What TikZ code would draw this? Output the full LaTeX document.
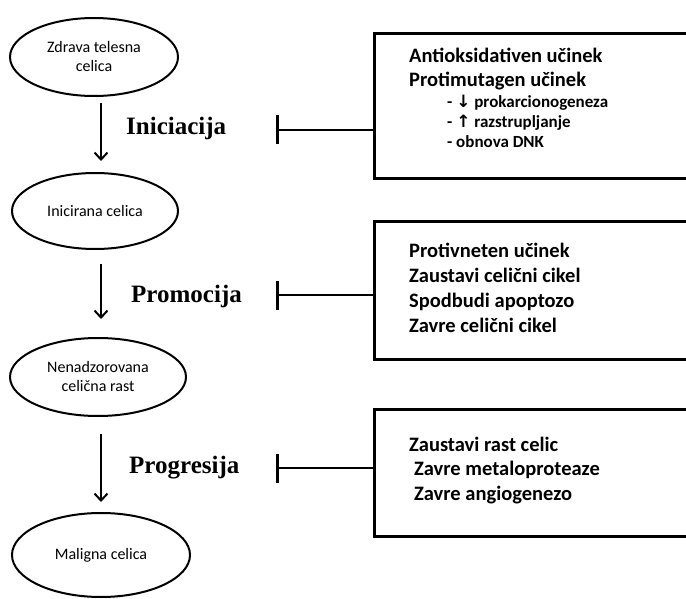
\documentclass[tikz,border=0pt]{standalone}
\usepackage{fontspec}
\setmainfont{Carlito}
\newfontfamily\phasefont{Liberation Serif}
\newfontfamily\symfont{DejaVu Sans}
\usetikzlibrary{shapes.geometric, arrows.meta}
\tikzset{
  cell/.style={ellipse, draw, line width=2pt, align=center, inner sep=0pt,
    font=\fontsize{16}{19}\selectfont},
  flow/.style={line width=2pt, -{Straight Barb[length=7pt,width=13pt,line width=2pt]}},
  phase/.style={anchor=base west, inner sep=0pt,
    font=\phasefont\bfseries\fontsize{25}{29}\selectfont},
  inhibit/.style={line width=2pt, -{Bar[width=29pt,line width=2.8pt]}},
  effbox/.style={draw, line width=2.6pt, rectangle, anchor=north west,
    minimum width=340pt, inner sep=0pt},
  effect/.style={anchor=base west, inner sep=0pt, font=\bfseries\fontsize{20.5}{24}\selectfont},
  subeffect/.style={anchor=base west, inner sep=0pt, font=\bfseries\fontsize{17}{20}\selectfont}
}

\begin{document}
\begin{tikzpicture}[x=1pt, y=-1pt]
		\useasboundingbox (0,0) rectangle (686,599);
		\clip (0,0) rectangle (686,599);
		% celice
		\node[cell, minimum width=168pt, minimum height=78pt] (c1) at (94,57) {Zdrava telesna\\celica};
		\node[cell, minimum width=166pt, minimum height=76pt] (c2) at (95,211) {Inicirana celica};
		\node[cell, minimum width=176pt, minimum height=78pt] (c3) at (98,377) {Nenadzorovana\\celična rast};
		\node[cell, minimum width=178pt, minimum height=84pt] (c4) at (101,555) {Maligna celica};
		\draw[flow, shorten <=6pt, shorten >=11pt] (c1.south -| c4) -- (c2.north -| c4);
		\draw[flow, shorten <=14pt, shorten >=18pt] (c2.south -| c4) -- (c3.north -| c4);
		\draw[flow, shorten <=17pt, shorten >=10pt] (c3.south -| c4) -- (c4.north -| c4);
		% faze
		\node[phase] (p1) at (126,135) {Iniciacija};
		\node[phase] (p2) at (131,302) {Promocija};
		\node[phase] (p3) at (129,473) {Progresija};
		% ucinki
		\node[effbox, minimum height=145pt] (box1) at (373,32) {};
		\node[effbox, minimum height=138pt] (box2) at (373,220) {};
		\node[effbox, minimum height=127pt] (box3) at (373,408) {};
		\coordinate (bar1) at (276,130);
		\coordinate (bar2) at (276,295);
		\coordinate (bar3) at (276,468);
		\draw[inhibit] (box1.west |- bar1) -- (bar1);
		\draw[inhibit] (box2.west |- bar2) -- (bar2);
		\draw[inhibit] (box3.west |- bar3) -- (bar3);
		\node[effect] (t11) at (409,63) {Antioksidativen učinek};
		\node[effect] (t12) at (409,87) {Protimutagen učinek};
		\node[subeffect] (t13) at (447,108) {- {\symfont ↓} prokarcionogeneza};
		\node[subeffect] (t14) at (447,128) {- {\symfont ↑} razstrupljanje};
		\node[subeffect] (t15) at (447,148) {- obnova DNK};
		\node[effect] (t21) at (409,257) {Protivneten učinek};
		\node[effect] (t22) at (409,282) {Zaustavi celični cikel};
		\node[effect] (t23) at (409,307) {Spodbudi apoptozo};
		\node[effect] (t24) at (409,332) {Zavre celični cikel};
		\node[effect] (t31) at (409,451) {Zaustavi rast celic};
		\node[effect] (t32) at (414,475) {Zavre metaloproteaze};
		\node[effect] (t33) at (414,500) {Zavre angiogenezo};
	\end{tikzpicture}
\end{document}
